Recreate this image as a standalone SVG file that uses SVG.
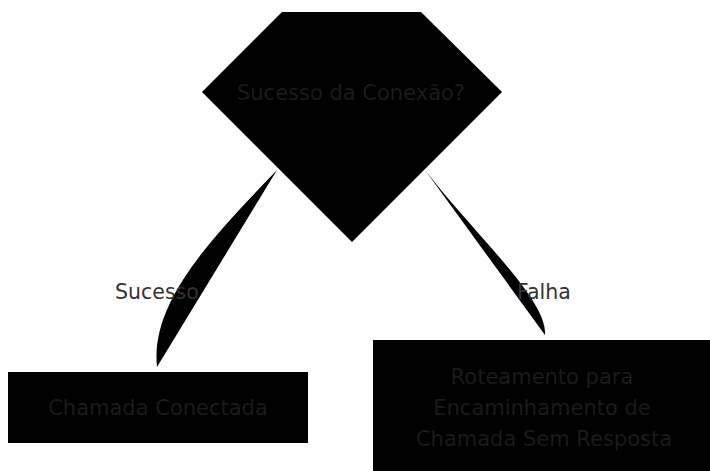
<svg xmlns="http://www.w3.org/2000/svg" width="710" height="471" viewBox="0 0 710 471">
<style>
.node{fill:#000;}
.ntext{fill:#1b1b1b;font-family:"DejaVu Sans",sans-serif;font-size:21px;text-anchor:middle;}
.edge{fill:#000;stroke:none;}
.elabel{fill:#333;font-family:"DejaVu Sans",sans-serif;font-size:20.5px;}
</style>
<rect width="710" height="471" fill="#fff"/>
<g id="connectors">
<path class="edge" d="M277,170 C215,235 150,300 157,367 Z"/>
<path class="edge" d="M425,170 C475,235 548,300 545,335 Z"/>
<text class="elabel" x="115" y="299">Sucesso</text>
<text class="elabel" x="517" y="299">Falha</text>
</g>
<g id="decision">
<polygon class="node" points="282,12 421,12 502,92 352,242 202,92"/>
<text class="ntext" x="351" y="100">Sucesso da Conexão?</text>
</g>
<g id="conectada">
<rect class="node" x="8" y="372" width="300" height="71"/>
<text class="ntext" x="158" y="415">Chamada Conectada</text>
</g>
<g id="roteamento">
<rect class="node" x="373" y="340" width="342" height="131"/>
<text class="ntext" x="542" y="384">Roteamento para</text>
<text class="ntext" x="542" y="415">Encaminhamento de</text>
<text class="ntext" x="544" y="446">Chamada Sem Resposta</text>
</g>
</svg>
